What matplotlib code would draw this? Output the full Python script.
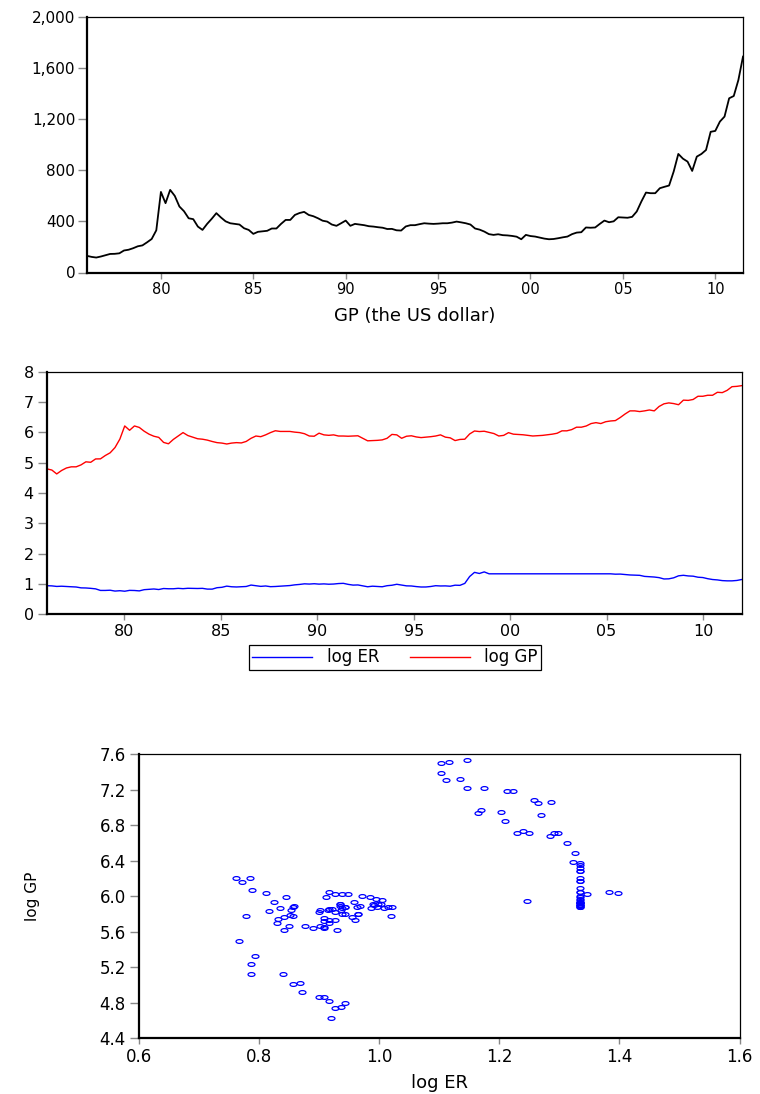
import numpy as np
import matplotlib
matplotlib.use("Agg")
import matplotlib.pyplot as plt
from matplotlib.path import Path
from matplotlib.transforms import Affine2D
from matplotlib.ticker import FuncFormatter

plt.rcParams['font.family'] = ['DejaVu Sans']

# gold price in US dollars, quarterly 1976Q1 - 2011Q3
gp_usd = [130, 122, 117, 125,   135, 145, 146, 150,   172, 178, 190, 205,
          212, 236, 262, 330,   630, 542, 646, 599,   516, 479, 424, 417,
          359, 333, 380, 420,   464, 430, 400, 385,   380, 375, 346, 333,
          302, 318, 322, 326,   344, 344, 380, 411,   411, 450, 465, 474,
          450, 440, 424, 405,   398, 375, 365, 385,   406, 365, 380, 375,
          370, 362, 359, 354,   350, 340, 341, 330,   328, 360, 370, 370,
          378, 385, 382, 380,   382, 385, 385, 390,   398, 392, 385, 375,
          344, 335, 320, 300,   294, 299, 292, 290,   286, 280, 260, 294,
          285, 281, 273, 265,   260, 262, 268, 275,   281, 300, 312, 315,
          352, 350, 352, 380,   406, 393, 400, 432,   430, 428, 435, 477,
          555, 625, 620, 620,   659, 670, 680, 790,   927, 890, 867, 794,
          906, 927, 958, 1100,  1107, 1180, 1219, 1362, 1380, 1505, 1688]

# quarterly 1976Q1 - 2011Q4
log_er = [0.943, 0.937, 0.919, 0.926,  0.916, 0.908, 0.900, 0.872,
          0.868, 0.856, 0.839, 0.787,  0.787, 0.794, 0.766, 0.778,
          0.761, 0.789, 0.785, 0.772,  0.812, 0.824, 0.835, 0.817,
          0.850, 0.842, 0.842, 0.856,  0.845, 0.858, 0.853, 0.851,
          0.856, 0.831, 0.830, 0.877,  0.890, 0.929, 0.908, 0.901,
          0.908, 0.917, 0.964, 0.943,  0.921, 0.934, 0.911, 0.917,
          0.927, 0.938, 0.948, 0.971,  0.985, 1.005, 0.997, 1.008,
          0.995, 1.003, 0.992, 0.998,  1.014, 1.021, 0.987, 0.963,
          0.968, 0.938, 0.908, 0.927,  0.917, 0.908, 0.943, 0.958,
          0.990, 0.964, 0.938, 0.934,  0.914, 0.900, 0.901, 0.917,
          0.943, 0.934, 0.937, 0.926,  0.960, 0.955, 1.019, 1.246,
          1.383, 1.346, 1.398, 1.335,  1.335, 1.335, 1.335, 1.335,
          1.335, 1.335, 1.335, 1.335,  1.335, 1.335, 1.335, 1.335,
          1.335, 1.335, 1.335, 1.335,  1.335, 1.335, 1.335, 1.335,
          1.335, 1.335, 1.335, 1.335,  1.335, 1.323, 1.326, 1.313,
          1.297, 1.291, 1.285, 1.250,  1.240, 1.229, 1.209, 1.165,
          1.170, 1.203, 1.269, 1.286,  1.265, 1.257, 1.223, 1.212,
          1.174, 1.147, 1.134, 1.111,  1.103, 1.103, 1.116, 1.147]

log_gp = [4.795, 4.757, 4.629, 4.742,  4.825, 4.863, 4.863, 4.927,
          5.028, 5.013, 5.123, 5.126,  5.236, 5.326, 5.499, 5.778,
          6.211, 6.068, 6.211, 6.162,  6.038, 5.940, 5.872, 5.834,
          5.668, 5.623, 5.766, 5.879,  5.992, 5.894, 5.842, 5.789,
          5.774, 5.744, 5.699, 5.661,  5.646, 5.616, 5.646, 5.661,
          5.651, 5.700, 5.804, 5.879,  5.857, 5.917, 5.992, 6.053,
          6.030, 6.030, 6.030, 6.007,  5.992, 5.955, 5.879, 5.872,
          5.973, 5.917, 5.902, 5.917,  5.879, 5.879, 5.872, 5.879,
          5.887, 5.804, 5.721, 5.729,  5.736, 5.751, 5.804, 5.932,
          5.917, 5.804, 5.872, 5.887,  5.849, 5.827, 5.842, 5.857,
          5.879, 5.917, 5.842, 5.819,  5.729, 5.766, 5.774, 5.947,
          6.045, 6.026, 6.037, 6.000,  5.960, 5.880, 5.900, 5.990,
          5.940, 5.930, 5.920, 5.900,  5.880, 5.890, 5.900, 5.920,
          5.940, 5.970, 6.050, 6.050,  6.090, 6.170, 6.170, 6.210,
          6.290, 6.320, 6.290, 6.350,  6.375, 6.388, 6.489, 6.606,
          6.708, 6.708, 6.685, 6.708,  6.738, 6.708, 6.854, 6.941,
          6.971, 6.949, 6.911, 7.062,  7.054, 7.084, 7.190, 7.190,
          7.223, 7.223, 7.321, 7.310,  7.385, 7.506, 7.517, 7.540]

year_ticks = [1980, 1985, 1990, 1995, 2000, 2005, 2010]
year_labels = ["80", "85", "90", "95", "00", "05", "10"]

t_gp = 1976 + np.arange(len(gp_usd)) / 4
t_q = np.linspace(1976, 2012, len(log_er))

TICK_FS = 10.5
LAB_FS = 13


def style_axes(ax):
    for s in ["left", "bottom"]:
        ax.spines[s].set_linewidth(1.6)
    for s in ["top", "right"]:
        ax.spines[s].set_linewidth(0.9)
    ax.tick_params(axis="both", direction="out", width=1.0,
                   color="#888888", labelsize=TICK_FS, pad=3)
    ax.tick_params(axis="x", length=4)
    ax.tick_params(axis="y", length=6.5)


fig = plt.figure(figsize=(7.6, 10.94), dpi=100)

# top: gold price in USD
ax1 = fig.add_axes([87 / 760, 1 - 272.5 / 1094, 656 / 760, 255.8 / 1094])
ax1.plot(t_gp, gp_usd, color="black", lw=1.3)
ax1.set_xlim(t_gp[0], t_gp[-1])
ax1.set_ylim(0, 2000)
ax1.set_yticks([0, 400, 800, 1200, 1600, 2000])
ax1.yaxis.set_major_formatter(FuncFormatter(lambda v, p: f"{int(v):,}"))
ax1.set_xticks(year_ticks)
ax1.set_xticklabels(year_labels)
style_axes(ax1)
ax1.tick_params(axis="y", labelsize=TICK_FS + 0.5, pad=2)
ax1.set_xlabel("GP (the US dollar)", fontsize=LAB_FS, va="center")
ax1.xaxis.set_label_coords(0.5, -0.170)

# middle: log ER and log GP
ax2 = fig.add_axes([47 / 760, 1 - 614.3 / 1094, 694.7 / 760, 242.6 / 1094])
ax2.plot(t_q, log_er, color="#0000ff", lw=1.0, label="log ER")
ax2.plot(t_q, log_gp, color="#ff0000", lw=1.0, label="log GP")
ax2.set_xlim(1976, 2012)
ax2.set_ylim(0, 8)
ax2.set_yticks(range(0, 9))
ax2.set_xticks(year_ticks)
ax2.set_xticklabels(year_labels)
style_axes(ax2)
ax2.tick_params(axis="both", labelsize=TICK_FS + 1)
leg = fig.legend(loc="center", bbox_to_anchor=(395 / 760, 1 - 657.5 / 1094),
                 ncol=2, fontsize=TICK_FS + 1.5, frameon=True, fancybox=False,
                 edgecolor="black", framealpha=1, handlelength=3.6,
                 columnspacing=1.8, borderpad=0.2, handletextpad=0.9)
leg.get_frame().set_linewidth(0.9)

# bottom: scatter
ell = Path.unit_circle().transformed(Affine2D().scale(1.0, 0.55))
ax3 = fig.add_axes([139 / 760, 1 - 1038.3 / 1094, 600.5 / 760, 284 / 1094])
ax3.plot(log_er, log_gp, linestyle="none", marker=ell, ms=5.0,
         mfc="none", mec="#0000ff", mew=0.9)
ax3.set_xlim(0.6, 1.6)
ax3.set_ylim(4.4, 7.6)
ax3.set_xticks(np.arange(0.6, 1.61, 0.2))
ax3.set_yticks(np.arange(4.4, 7.61, 0.4))
ax3.xaxis.set_major_formatter(FuncFormatter(lambda v, p: f"{v:.1f}"))
ax3.yaxis.set_major_formatter(FuncFormatter(lambda v, p: f"{v:.1f}"))
style_axes(ax3)
ax3.tick_params(axis="x", labelsize=TICK_FS + 1.5)
ax3.tick_params(axis="y", labelsize=TICK_FS + 1.5)
ax3.set_xlabel("log ER", fontsize=LAB_FS, va="center")
ax3.xaxis.set_label_coords(0.5, -0.157)
ax3.set_ylabel("log GP", fontsize=LAB_FS - 2, va="center")
ax3.yaxis.set_label_coords(-0.178, 0.5)

fig.savefig("out.png", dpi=100)
